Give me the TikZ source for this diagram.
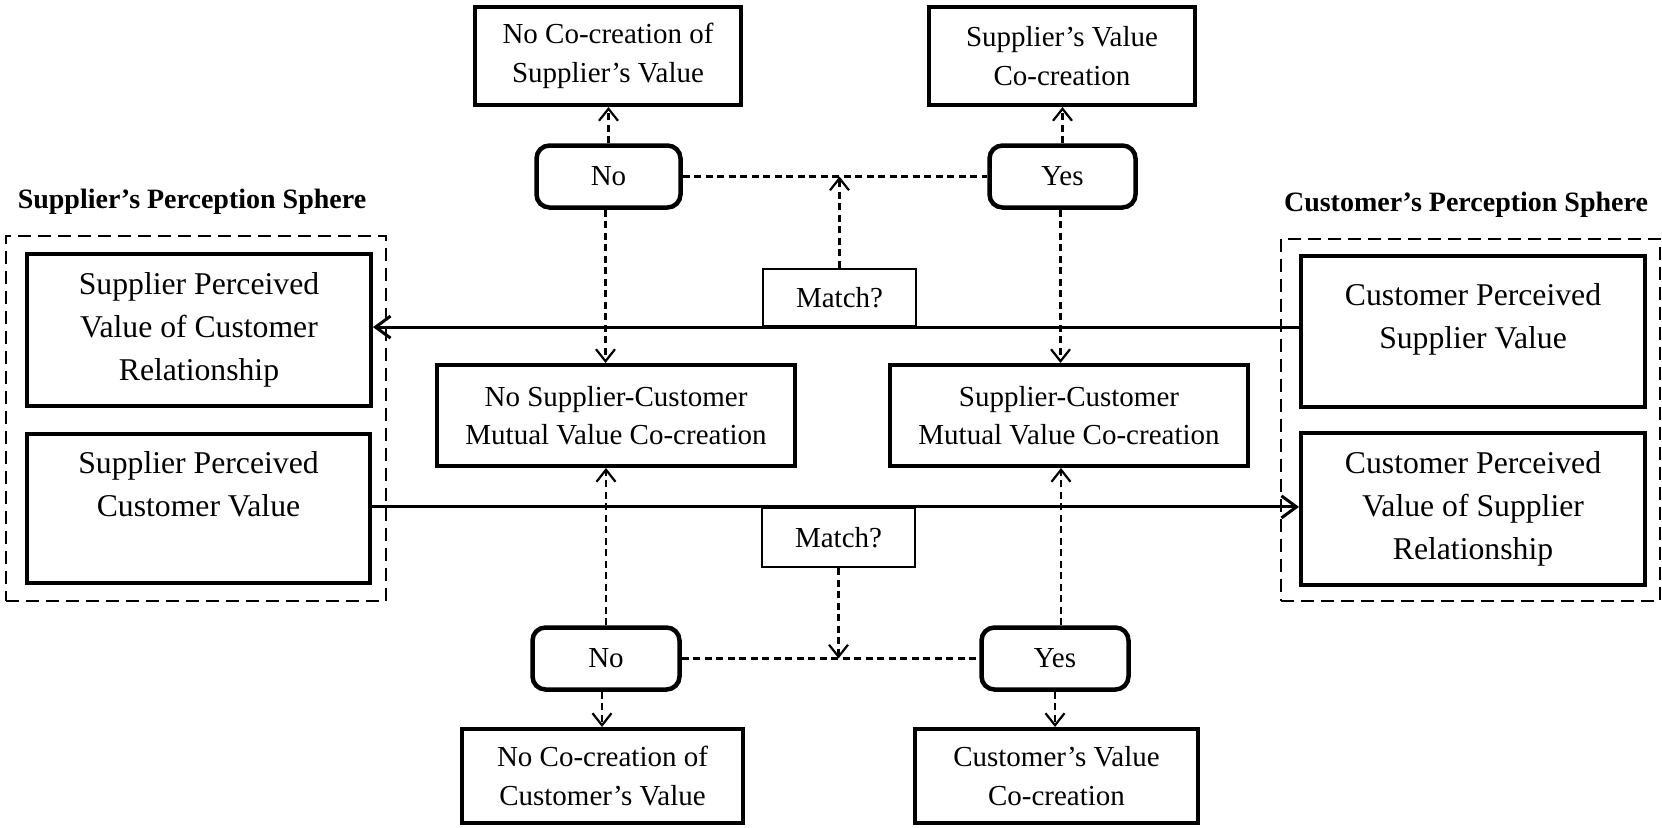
\documentclass[tikz,border=0pt]{standalone}
\usepackage{fontspec}
\setmainfont{Liberation Serif}
\usetikzlibrary{arrows.meta}
\newcommand\fmid{\fontsize{29}{38.5}\selectfont}
\newcommand\fside{\fontsize{31.7}{43}\selectfont}
\newcommand\ftitle{\fontsize{28}{34}\selectfont\bfseries}
\begin{document}
\begin{tikzpicture}[x=1pt,y=-1pt,
 box/.style={draw, line width=4pt, align=center, inner sep=0pt, font=\fmid},
 sidebox/.style={box, font=\fside},
 rbox/.style={box, rounded corners=13pt, line width=4.5pt},
 matchbox/.style={draw, line width=2.2pt, align=center, inner sep=0pt, font=\fmid},
 sphere/.style={draw, line width=2.4pt, dash pattern=on 13pt off 7pt, inner sep=0pt},
 conn/.style={line width=2.2pt, dash pattern=on 7pt off 4.5pt, -{Straight Barb[length=12pt,width=19pt]}},
 link/.style={line width=2.2pt, dash pattern=on 7pt off 4.5pt},
 flow/.style={line width=3pt, -{Straight Barb[length=15pt,width=22pt]}},
 title/.style={anchor=base, inner sep=0pt, font=\ftitle}]
\useasboundingbox (0,0) rectangle (1662,827);

% spheres
\node[sphere, minimum width=380pt, minimum height=365pt] (sphL) at (196,418.5) {};
\node[sphere, minimum width=379pt, minimum height=362pt] (sphR) at (1470.5,420) {};
\node[title] (titL) at (192,208) {Supplier’s Perception Sphere};
\node[title] (titR) at (1466,211) {Customer’s Perception Sphere};

% side boxes
\node[sidebox, minimum width=344pt, minimum height=152pt] (spvcr) at (199,329.5)
  {Supplier Perceived\\Value of Customer\\Relationship};
\node[sidebox, minimum width=343pt, minimum height=149pt] (spcv) at (198.5,508.5)
  {Supplier Perceived\\Customer Value\\[-7pt]\strut};
\node[sidebox, minimum width=344pt, minimum height=151pt] (cpsv) at (1473,331.5)
  {Customer Perceived\\Supplier Value\\[-25pt]\strut};
\node[sidebox, minimum width=344pt, minimum height=152pt] (cpvsr) at (1473,509)
  {Customer Perceived\\Value of Supplier\\Relationship};

% top
\node[box, minimum width=266pt, minimum height=98pt] (ncsv) at (608,56)
  {No Co-creation of\\Supplier’s Value};
\node[box, minimum width=266pt, minimum height=98pt] (svc) at (1062,56)
  {Supplier’s Value\\Co-creation};
\node[rbox, minimum width=144pt, minimum height=62pt] (noT) at (608.5,176.5) {No};
\node[rbox, minimum width=146pt, minimum height=62pt] (yesT) at (1062.5,176.5) {Yes};
\node[matchbox, minimum width=153pt, minimum height=57pt] (matchU) at (839.5,297.5) {Match?};

% middle
\node[box, minimum width=358pt, minimum height=101pt] (nsc) at (616,415.5)
  {No Supplier-Customer\\Mutual Value Co-creation};
\node[box, minimum width=358pt, minimum height=101pt] (sc) at (1069,415.5)
  {Supplier-Customer\\Mutual Value Co-creation};

% bottom
\node[matchbox, minimum width=153pt, minimum height=59pt] (matchL) at (838.5,537.5) {Match?};
\node[rbox, minimum width=147pt, minimum height=62pt] (noB) at (606,658.5) {No};
\node[rbox, minimum width=147pt, minimum height=62pt] (yesB) at (1055,658.5) {Yes};
\node[box, minimum width=281pt, minimum height=94pt] (ncc) at (602.5,776)
  {No Co-creation of\\Customer’s Value};
\node[box, minimum width=283pt, minimum height=94pt] (cvc) at (1056.5,776)
  {Customer’s Value\\Co-creation};

% solid flows
\draw[flow] (cpsv.west |- matchU.south) -- (spvcr.east |- matchU.south);
\draw[flow] (spcv.east |- matchL.north) -- (cpvsr.west |- matchL.north);

% top dashed
\draw[link] (noT.east) -- (yesT.west);
\coordinate (mU) at (matchU.north |- noT.east);
\draw[conn] (matchU.north) -- (mU);
\draw[conn] (noT.north) -- (noT.north |- ncsv.south);
\draw[conn] (yesT.north) -- (yesT.north |- svc.south);
\draw[conn] ([xshift=-3pt]noT.south) -- ([xshift=-3pt]noT.south |- nsc.north);
\draw[conn] ([xshift=-2pt]yesT.south) -- ([xshift=-2pt]yesT.south |- sc.north);

% bottom dashed
\draw[link] (noB.east) -- (yesB.west);
\coordinate (mL) at (matchL.south |- noB.east);
\draw[conn] (matchL.south) -- (mL);
\draw[conn] (noB.north) -- (noB.north |- nsc.south);
\draw[conn] ([xshift=6pt]yesB.north) -- ([xshift=6pt]yesB.north |- sc.south);
\draw[conn] ([xshift=-4pt]noB.south) -- ([xshift=-4pt]noB.south |- ncc.north);
\draw[conn] (yesB.south) -- (yesB.south |- cvc.north);
\end{tikzpicture}
\end{document}
